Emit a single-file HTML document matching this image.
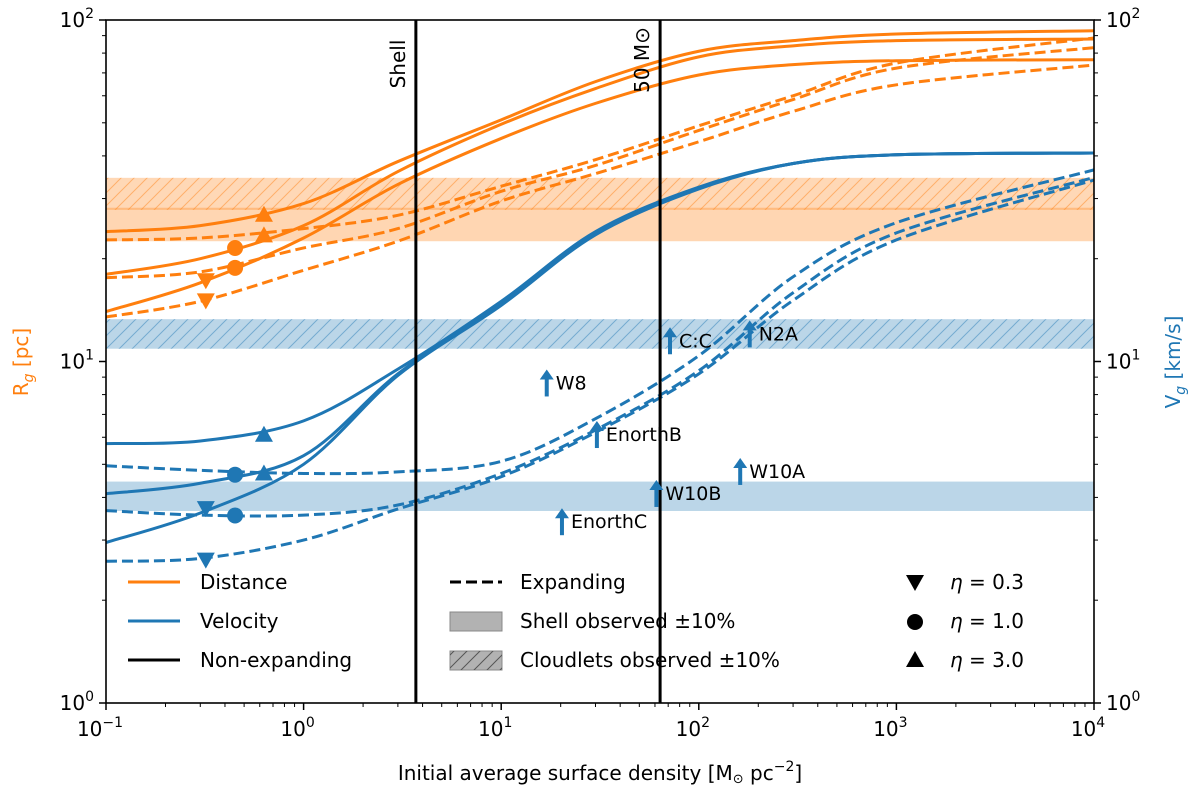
<!DOCTYPE html>
<html><head><meta charset="utf-8"><style>
body{margin:0;background:#fff}
svg{display:block;font-family:"DejaVu Sans","Liberation Sans",sans-serif}
</style></head><body>
<svg id="chart" width="1200" height="796" viewBox="0 0 1200 796" xmlns="http://www.w3.org/2000/svg">
<defs>
<pattern id="hatchO" patternUnits="userSpaceOnUse" width="13" height="13"><path d="M-2,15 L15,-2 M-8,8 L8,-8 M5,21 L21,5" stroke="#ff7f0e" stroke-opacity="0.45" stroke-width="1"/></pattern>
<pattern id="hatchB" patternUnits="userSpaceOnUse" width="13" height="13"><path d="M-2,15 L15,-2 M-8,8 L8,-8 M5,21 L21,5" stroke="#1f77b4" stroke-opacity="0.45" stroke-width="1"/></pattern>
<pattern id="hatchG" patternUnits="userSpaceOnUse" width="13" height="13"><path d="M-2,15 L15,-2 M-8,8 L8,-8 M5,21 L21,5" stroke="#555" stroke-width="1"/></pattern>
</defs>
<g id="plot"></g>
</svg>
<script>
const xs = [0.1,0.3,1,3,10,30,100,300,1000,10000];
const orangeSolid3 = [24,25,29,38.5,51,66,81,87,91,93];
const orangeSolid1 = [18,20,25,36,49.5,63,78,84,87,88];
const orangeSolid03 = [14,17,23,33,45,57,69,74,76,76.5];
const orangeDash3 = [22.7,23,24.5,26.8,32.6,39,49,60,74.8,88.6];
const orangeDash1 = [17.6,18.3,21.5,24.5,31.5,37.5,47.5,58.5,72.3,83];
const orangeDash03 = [13.5,15,18.5,22.5,29.5,35.5,44,54,64.6,73.8];
const blueSolid3 = [5.75,5.85,6.7,9.5,15,24,32.4,38,40.3,40.8];
const blueSolid1 = [4.1,4.4,5.3,9.2,14.8,23.8,32.2,38,40.3,40.8];
const blueSolid03 = [2.95,3.6,5.0,9.1,14.6,23.5,32,38,40.3,40.8];
const blueDash3 = [4.95,4.8,4.7,4.75,5.1,6.8,10.4,17.7,25.5,36.4];
const blueDash1 = [3.66,3.55,3.55,3.8,4.7,6.3,9.4,15.9,23.8,34.6];
const blueDash03 = [2.6,2.65,3.0,3.7,4.6,6.2,9.2,15.1,22.7,34];
const markerX = {down:0.32, circle:0.45, up:0.63};
const orangeMarkers = [["up",26.9],["up",23.4],["circle",21.5],["circle",18.8],["down",17.3],["down",15.1]];
const blueMarkers = [["up",6.1],["up",4.7],["circle",4.66],["circle",3.54],["down",3.72],["down",2.63]];
const bandOrangeShell = [22.5,28.2];
const bandOrangeCloud = [27.8,34.5];
const bandBlueShell = [3.65,4.45];
const bandBlueCloud = [10.9,13.3];
const vlineX = [3.7,63.7];
const vlineLabels = ["Shell","50 M\u2299"];
const arrowNames = ["W8","EnorthB","EnorthC","W10B","W10A","C:C","N2A"];
const arrowX = [17,30.5,20.3,61,162,71.5,181];
const arrowY = [7.9,5.58,3.1,3.75,4.35,10.5,11.0];
const xTicks = [0.1,1,10,100,1000,10000];
const xTickExp = ["\u22121","0","1","2","3","4"];
const yTicks = [1,10,100];
const yTickExp = ["0","1","2"];

const L=106,R=1094,T=20,B=703;
const sx=v=>L+(Math.log10(v)+1)/5*(R-L);
const sy=v=>B-(Math.log10(v))/2*(B-T);
const NS="http://www.w3.org/2000/svg";
const g=document.getElementById('plot');
function mk(tag,attrs,parent){const e=document.createElementNS(NS,tag);for(const k in attrs)e.setAttribute(k,attrs[k]);(parent||g).appendChild(e);return e;}
const OR="#ff7f0e",BL="#1f77b4";

function band(r,fill,op,name){const e=mk('rect',{x:L,y:sy(r[1]),width:R-L,height:sy(r[0])-sy(r[1]),fill:fill,'fill-opacity':op});


return e;}
band(bandOrangeShell,OR,0.32,'orange-shell-band');
band(bandOrangeCloud,OR,0.3,'orange-cloudlet-band');
band(bandOrangeCloud,'url(#hatchO)',1,'orange-cloudlet-hatch');
band(bandBlueShell,BL,0.3,'blue-shell-band');
band(bandBlueCloud,BL,0.3,'blue-cloudlet-band');
band(bandBlueCloud,'url(#hatchB)',1,'blue-cloudlet-hatch');

function curvePath(vals){
  const p=xs.map((x,i)=>[sx(x),sy(vals[i])]);
  let d=`M${p[0][0]},${p[0][1]}`;
  for(let i=0;i<p.length-1;i++){
    const p0=p[i-1]||p[i],p1=p[i],p2=p[i+1],p3=p[i+2]||p[i+1];
    const c1=[p1[0]+(p2[0]-p0[0])/6,p1[1]+(p2[1]-p0[1])/6];
    const c2=[p2[0]-(p3[0]-p1[0])/6,p2[1]-(p3[1]-p1[1])/6];
    d+=` C${c1[0]},${c1[1]} ${c2[0]},${c2[1]} ${p2[0]},${p2[1]}`;
  }
  return d;
}
const series=[[orangeSolid3,OR,false,'orange-solid-eta3'],[orangeSolid1,OR,false,'orange-solid-eta1'],[orangeSolid03,OR,false,'orange-solid-eta03'],
[orangeDash3,OR,true,'orange-dashed-eta3'],[orangeDash1,OR,true,'orange-dashed-eta1'],[orangeDash03,OR,true,'orange-dashed-eta03'],
[blueSolid3,BL,false,'blue-solid-eta3'],[blueSolid1,BL,false,'blue-solid-eta1'],[blueSolid03,BL,false,'blue-solid-eta03'],
[blueDash3,BL,true,'blue-dashed-eta3'],[blueDash1,BL,true,'blue-dashed-eta1'],[blueDash03,BL,true,'blue-dashed-eta03']];
series.forEach(s=>{
  const e=mk('path',{d:curvePath(s[0]),fill:'none',stroke:s[1],'stroke-width':3,'stroke-dasharray':s[2]?'11,5':'none'});
  
  
});
function marker(type,cx,cy,col,parent){
  let e;
  if(type==='circle') e=mk('circle',{cx:cx,cy:cy,r:8,fill:col},parent);
  else if(type==='up') e=mk('polygon',{points:`${cx},${cy-9} ${cx-9},${cy+7} ${cx+9},${cy+7}`,fill:col},parent);
  else e=mk('polygon',{points:`${cx},${cy+9} ${cx-9},${cy-7} ${cx+9},${cy-7}`,fill:col},parent);
  return e;
}
orangeMarkers.forEach(m=>{const e=marker(m[0],sx(markerX[m[0]]),sy(m[1]),OR);

});
blueMarkers.forEach(m=>{const e=marker(m[0],sx(markerX[m[0]]),sy(m[1]),BL);

});

vlineX.forEach((v,i)=>{
  const e=mk('line',{x1:sx(v),x2:sx(v),y1:T,y2:B,stroke:'#000','stroke-width':3});
  
  
  const t=mk('text',{x:0,y:0,'font-size':20,'text-anchor':'middle',transform:`translate(${sx(v)-11},${i?60:64}) rotate(-90)`});
  t.textContent=vlineLabels[i];
  
  
});

arrowNames.forEach((n,i)=>{
  const x=sx(arrowX[i]),y=sy(arrowY[i]);
  const a=mk('g',{});
  
  
  mk('line',{x1:x,x2:x,y1:y,y2:y-18,stroke:BL,'stroke-width':4},a);
  mk('polygon',{points:`${x},${y-27} ${x-7},${y-17} ${x+7},${y-17}`,fill:BL},a);
  const t=mk('text',{x:x+9,y:y-7,'font-size':19},a);t.textContent=n;
});

const fr=mk('rect',{x:L,y:T,width:R-L,height:B-T,fill:'none',stroke:'#000','stroke-width':1.6});


xTicks.forEach((v,i)=>{
  mk('line',{x1:sx(v),x2:sx(v),y1:B,y2:B+7,stroke:'#000','stroke-width':1.5});
  const t=mk('text',{x:sx(v)-6,y:B+33,'font-size':20,'text-anchor':'middle'});
  t.innerHTML=`10<tspan dy="-9" font-size="14">${xTickExp[i]}</tspan>`;
  
  
  if(i<xTicks.length-1)for(let k=2;k<10;k++){const xx=sx(v*k);mk('line',{x1:xx,x2:xx,y1:B,y2:B+4,stroke:'#000','stroke-width':1});}
});
yTicks.forEach((v,i)=>{
  mk('line',{x1:L-7,x2:L,y1:sy(v),y2:sy(v),stroke:'#000','stroke-width':1.5});
  mk('line',{x1:R,x2:R+7,y1:sy(v),y2:sy(v),stroke:'#000','stroke-width':1.5});
  const t=mk('text',{x:L-12,y:sy(v)+7,'font-size':20,'text-anchor':'end'});
  t.innerHTML=`10<tspan dy="-9" font-size="14">${yTickExp[i]}</tspan>`;
  
  
  const t2=mk('text',{x:R+12,y:sy(v)+7,'font-size':20});
  t2.innerHTML=`10<tspan dy="-9" font-size="14">${yTickExp[i]}</tspan>`;
  
  
  if(i<yTicks.length-1)for(let k=2;k<10;k++){const yy=sy(v*k);mk('line',{x1:L-4,x2:L,y1:yy,y2:yy,stroke:'#000'});mk('line',{x1:R,x2:R+4,y1:yy,y2:yy,stroke:'#000'});}
});
</script>
<svg style="position:absolute;left:0;top:0" width="1200" height="796">
<text x="600" y="780" font-size="20" text-anchor="middle" font-family="DejaVu Sans,Liberation Sans,sans-serif">Initial average surface density [M<tspan font-size="13" dy="3">⊙</tspan><tspan dy="-3"> pc</tspan><tspan dy="-9" font-size="14">−2</tspan><tspan dy="9">]</tspan></text>
<text transform="translate(28,362) rotate(-90)" font-size="20" fill="#ff7f0e" text-anchor="middle" font-family="DejaVu Sans,Liberation Sans,sans-serif">R<tspan font-size="14" dy="5" font-style="italic">g</tspan><tspan dy="-5"> [pc]</tspan></text>
<text transform="translate(1180,362) rotate(-90)" font-size="20" fill="#1f77b4" text-anchor="middle" font-family="DejaVu Sans,Liberation Sans,sans-serif">V<tspan font-size="14" dy="5" font-style="italic">g</tspan><tspan dy="-5"> [km/s]</tspan></text>
<g font-size="20" font-family="DejaVu Sans,Liberation Sans,sans-serif">
<line x1="128" x2="180" y1="582" y2="582" stroke="#ff7f0e" stroke-width="3"/><text x="200" y="589">Distance</text>
<line x1="128" x2="180" y1="621" y2="621" stroke="#1f77b4" stroke-width="3"/><text x="200" y="628">Velocity</text>
<line x1="128" x2="180" y1="660" y2="660" stroke="#000" stroke-width="3"/><text x="200" y="667">Non-expanding</text>
<line x1="450" x2="502" y1="582" y2="582" stroke="#000" stroke-width="3" stroke-dasharray="11,5"/><text x="520" y="589">Expanding</text>
<rect x="450" y="612" width="52" height="19" fill="#000" fill-opacity="0.3" stroke="#888"/><text x="520" y="628">Shell observed ±10%</text>
<rect x="450" y="651" width="52" height="19" fill="#000" fill-opacity="0.3" stroke="#888"/><rect x="450" y="651" width="52" height="19" fill="url(#hatchG)"/><text x="520" y="667">Cloudlets observed ±10%</text>
<polygon points="915,591 906,575 924,575" fill="#000"/><text x="950" y="589"><tspan font-style="italic">η</tspan> = 0.3</text>
<circle cx="915" cy="622" r="8" fill="#000"/><text x="950" y="628"><tspan font-style="italic">η</tspan> = 1.0</text>
<polygon points="915,651 906,667 924,667" fill="#000"/><text x="950" y="667"><tspan font-style="italic">η</tspan> = 3.0</text>
</g>
</svg>
</body></html>
